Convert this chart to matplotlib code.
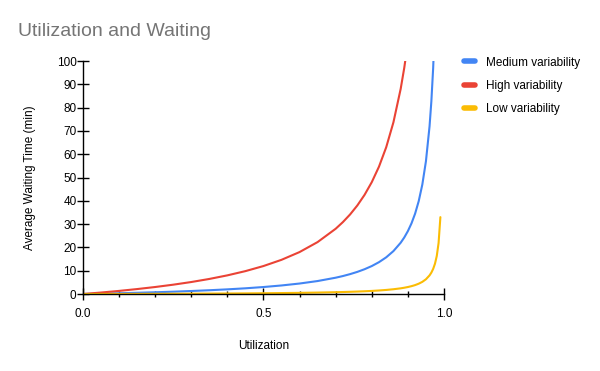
import numpy as np
import matplotlib
matplotlib.use("Agg")
import matplotlib.pyplot as plt
from matplotlib.ticker import MultipleLocator

plt.rcParams['font.family'] = ['Liberation Sans', 'DejaVu Sans']

utilization = [0, .05, .1, .15, .2, .25, .3, .35, .4, .45, .5, .55, .6, .65, .7, .72, .74,
               .76, .78, .8, .82, .84, .86, .88, .89, .9, .91, .92, .93, .94, .95, .96,
               .965, .97, .975, .98, .985, .99]
nan = np.nan
medium_var = [0, 0.16, 0.33, 0.53, 0.75, 1.0, 1.29, 1.62, 2.0, 2.45, 3.0, 3.67, 4.5, 5.57,
              7.0, 7.71, 8.54, 9.5, 10.64, 12.0, 13.67, 15.75, 18.43, 22.0, 24.27, 27.0,
              30.33, 34.5, 39.86, 47.0, 57.0, 72.0, 82.7, 97.0, 117.0, 147.0, nan, nan]
high_var = [0, 0.63, 1.33, 2.12, 3.0, 4.0, 5.14, 6.46, 8.0, 9.82, 12.0, 14.67, 18.0, 22.29,
            28.0, 30.86, 34.15, 38.0, 42.55, 48.0, 54.67, 63.0, 73.71, 88.0, 97.1, 108.0,
            nan, nan, nan, nan, nan, nan, nan, nan, nan, nan, nan, nan]
low_var = [0, 0.02, 0.04, 0.06, 0.08, 0.11, 0.14, 0.18, 0.22, 0.27, 0.33, 0.41, 0.5, 0.62,
           0.78, 0.86, 0.95, 1.06, 1.18, 1.33, 1.52, 1.75, 2.05, 2.44, 2.7, 3.0, 3.37, 3.83,
           4.43, 5.22, 6.33, 8.0, 9.19, 10.78, 13.0, 16.33, 21.9, 33.0]

series_names = ['Medium variability', 'High variability', 'Low variability']
colors = ['#4285F4', '#EA4335', '#FBBC04']

fig = plt.figure(figsize=(6, 3.71), dpi=100)
ax = fig.add_axes([0.138, 0.2075, 0.602, 0.628])

for vals, name, c in zip([medium_var, high_var, low_var], series_names, colors):
    ax.plot(utilization, vals, color=c, lw=1.5, label=name, solid_capstyle='round')

ax.set_xlim(0, 1.0)
ax.set_ylim(0, 100)
ax.set_xticks([0, 0.5, 1.0])
ax.set_xticklabels(['0.0', '0.5', '1.0'])
ax.xaxis.set_minor_locator(MultipleLocator(0.1))
ax.yaxis.set_major_locator(MultipleLocator(10))

for s in ['top', 'right']:
    ax.spines[s].set_visible(False)
for s in ['left', 'bottom']:
    ax.spines[s].set_color('black')
    ax.spines[s].set_linewidth(1.0)

ax.tick_params(axis='y', direction='inout', length=9, width=1, labelsize=8.5, pad=0)
ax.tick_params(axis='x', which='major', direction='inout', length=8, width=1, labelsize=8.5, pad=6)
ax.tick_params(axis='x', which='minor', direction='inout', length=4.5, width=1)

ax.set_xlabel('Utilization', fontsize=8.5, labelpad=14.5)
ax.set_ylabel('Average Waiting Time (min)', fontsize=8.5, labelpad=15)

fig.text(0.03, 0.915, 'Utilization and Waiting', fontsize=14, color='#757575', va='center')

leg = ax.legend(loc='upper left', bbox_to_anchor=(1.025, 1.065), frameon=False, fontsize=8.5,
                handlelength=1.0, handletextpad=0.9, labelspacing=0.95)
for line in leg.get_lines():
    line.set_linewidth(4)

fig.savefig('out.png', dpi=100)
